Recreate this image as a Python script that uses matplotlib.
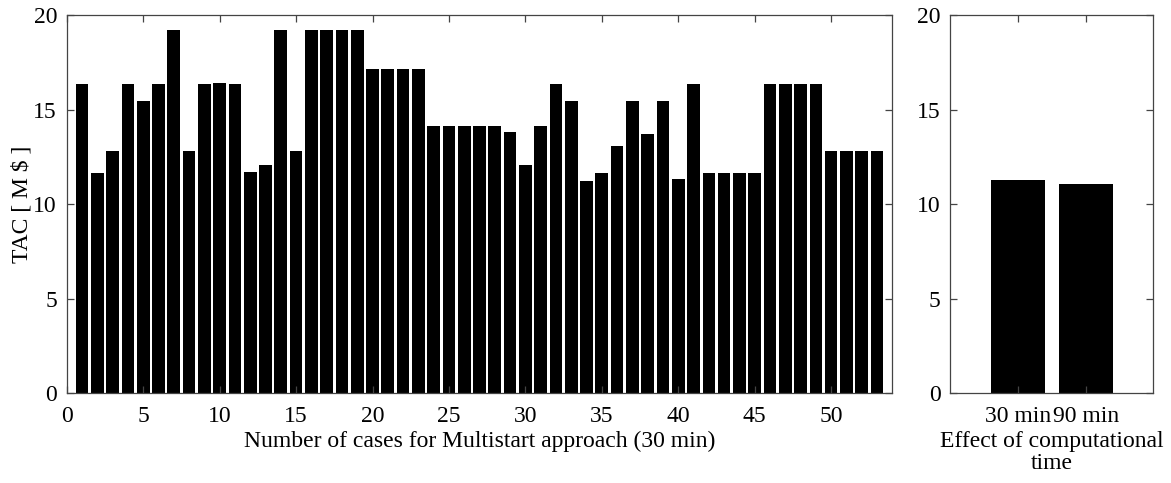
import matplotlib
matplotlib.use("Agg")
import matplotlib.pyplot as plt
import numpy as np

# TAC per multistart case (30 min runs), M$
CASES = np.arange(1, 54)
TAC = [16.35, 11.63, 12.81, 16.35, 15.45, 16.35, 19.2, 12.83, 16.35, 16.4,
       16.35, 11.68, 12.08, 19.22, 12.81, 19.22, 19.22, 19.22, 19.22, 17.14,
       17.14, 17.14, 17.14, 14.15, 14.15, 14.15, 14.15, 14.15, 13.8, 12.08,
       14.15, 16.35, 15.45, 11.22, 11.63, 13.09, 15.45, 13.69, 15.45, 11.31,
       16.35, 11.63, 11.63, 11.63, 11.63, 16.35, 16.35, 16.35, 16.35, 12.83,
       12.83, 12.83, 12.83]

# best TAC vs computational time
TIME_LABELS = ["30 min", "90 min"]
TIME_TAC = [11.26, 11.05]

FS = 17
plt.rcParams["font.family"] = ["Liberation Serif", "DejaVu Serif"]
plt.rcParams["font.size"] = FS
SPINE = "#444444"

fig = plt.figure(figsize=(11.71, 4.83), dpi=100)
ax1 = fig.add_axes([0.057, 0.1857, 0.705, 0.7833])
ax2 = fig.add_axes([0.8115, 0.1857, 0.1734, 0.7833])


def style(ax):
    for s in ax.spines.values():
        s.set_color(SPINE)
        s.set_linewidth(0.9)
    ax.tick_params(direction="in", length=5, width=0.9, color=SPINE,
                   top=True, right=True, labelsize=FS)
    ax.tick_params(axis="x", pad=9)
    ax.tick_params(axis="y", pad=7)
    ax.set_ylim(0, 20)
    ax.set_yticks([0, 5, 10, 15, 20])


ax1.bar(CASES, TAC, width=0.83, color="black", edgecolor="none")
ax1.set_xlim(0, 54)
ax1.set_xticks(np.arange(0, 51, 5))
style(ax1)
ax1.set_xlabel("Number of cases for Multistart approach (30 min)", fontsize=FS,
               labelpad=3)
ax1.set_ylabel("TAC [ M \\$ ]", fontsize=FS, labelpad=1)

ax2.bar([1, 2], TIME_TAC, width=0.8, color="black", edgecolor="none")
ax2.set_xlim(0, 3)
ax2.set_xticks([1, 2])
ax2.set_xticklabels(TIME_LABELS)
style(ax2)
ax2.set_xlabel("Effect of computational\ntime", fontsize=FS, labelpad=3,
               linespacing=1.05)

fig.savefig("out.png", dpi=100)
